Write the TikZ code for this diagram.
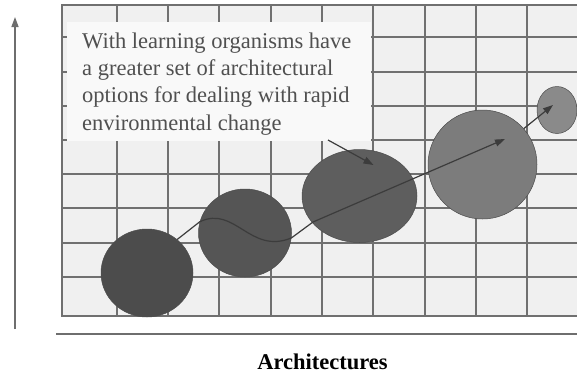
\documentclass[tikz,border=0pt]{standalone}
\usepackage{fontspec}
\setmainfont{Liberation Serif}
\usetikzlibrary{arrows.meta,calc,shapes.geometric}

\definecolor{gridbg}{HTML}{F0F0F0}
\definecolor{gridln}{HTML}{707070}
\definecolor{notebg}{HTML}{F9F9F9}
\definecolor{inkgray}{HTML}{505050}
\definecolor{axisgray}{HTML}{6E6E6E}
\definecolor{flowgray}{HTML}{3C3C3C}
\definecolor{blobA}{HTML}{4C4C4C}
\definecolor{blobB}{HTML}{555555}
\definecolor{blobC}{HTML}{5E5E5E}
\definecolor{blobD}{HTML}{7C7C7C}
\definecolor{blobE}{HTML}{8A8A8A}

\tikzset{
  gridline/.style={draw=gridln, line width=1.3pt},
  blob/.style={ellipse, inner sep=0pt, draw=black!70, line width=0.5pt},
  flow/.style={draw=flowgray, line width=1.2pt},
  tipflow/.style={flow, -{Triangle[length=10pt,width=7pt]}},
  axisline/.style={draw=axisgray, line width=1.5pt},
}

\begin{document}
\begin{tikzpicture}[x=1pt,y=-1pt]
\useasboundingbox (0,0) rectangle (577,376);
\fill[white] (0,0) rectangle (577,376);

% squared background
\fill[gridbg] (62,5) rectangle (580,316);
\foreach \x in {117,168,219,271,322,373,425,476,527}
  \draw[gridline] (\x,5) -- (\x,316);
\foreach \y in {37,72,106,140,174,208,243,277}
  \draw[gridline] (62,\y) -- (580,\y);
\draw[gridline] (580,5) -- (62,5) -- (62,316) -- (580,316);

% panel behind the caption text
\fill[notebg] (67,22) rectangle (371,141);

% axes
\coordinate (ybot) at (15,329);
\coordinate (ytop) at (15,17);
\coordinate (xleft) at (56,334);
\coordinate (xright) at (580,334);
\draw[axisline, -{Triangle[length=10pt,width=7pt]}] (ybot) -- (ytop);
\draw[axisline] (xleft) -- (xright);

% architectures, growing from left to right
\node[blob, fill=blobA, minimum width=92pt, minimum height=88pt] (c1) at (147,273) {};
\node[blob, fill=blobB, minimum width=93pt, minimum height=88pt] (c2) at (245,233) {};
\node[blob, fill=blobC, minimum width=115pt, minimum height=93pt] (c3) at (359.5,196) {};
\node[blob, fill=blobD, minimum width=109pt, minimum height=109pt] (c4) at (482.5,164.5) {};
\node[blob, fill=blobE, minimum width=40pt, minimum height=47pt] (c5) at (557,110) {};

% caption (base anchor sits on the last line)
\node[anchor=base west, align=left, inner sep=0pt, text=inkgray,
      font=\fontsize{22.5}{27.3}\selectfont] (note) at (82,130)
  {With learning organisms have\\
   a greater set of architectural\\
   options for dealing with rapid\\
   environmental change};

\node[anchor=base, inner sep=0pt, font=\fontsize{22.5}{27}\selectfont\bfseries]
  (xlabel) at (322.5,369) {Architectures};

% path of development
\coordinate (bend) at ($(c2.center)+(68,-11)$);
\coordinate (tip4) at ($(c4.center)+(22.5,-25.5)$);
\coordinate (tip5) at ($(c5.center)+(-4,-5)$);
\draw[tipflow] (c1.48) -- (c2.166)
  .. controls ($(c2.center)+(-10,-28)$) and ($(c2.center)+(5,22)$) .. (c2.-6)
  -- (bend) -- (tip4);
\draw[tipflow] (c4.41) -- (tip5);

% pointer from the caption
\coordinate (ptr) at (328,140);
\coordinate (tip3) at ($(c3.center)+(14,-31)$);
\draw[tipflow] (ptr) -- (tip3);
\end{tikzpicture}
\end{document}
